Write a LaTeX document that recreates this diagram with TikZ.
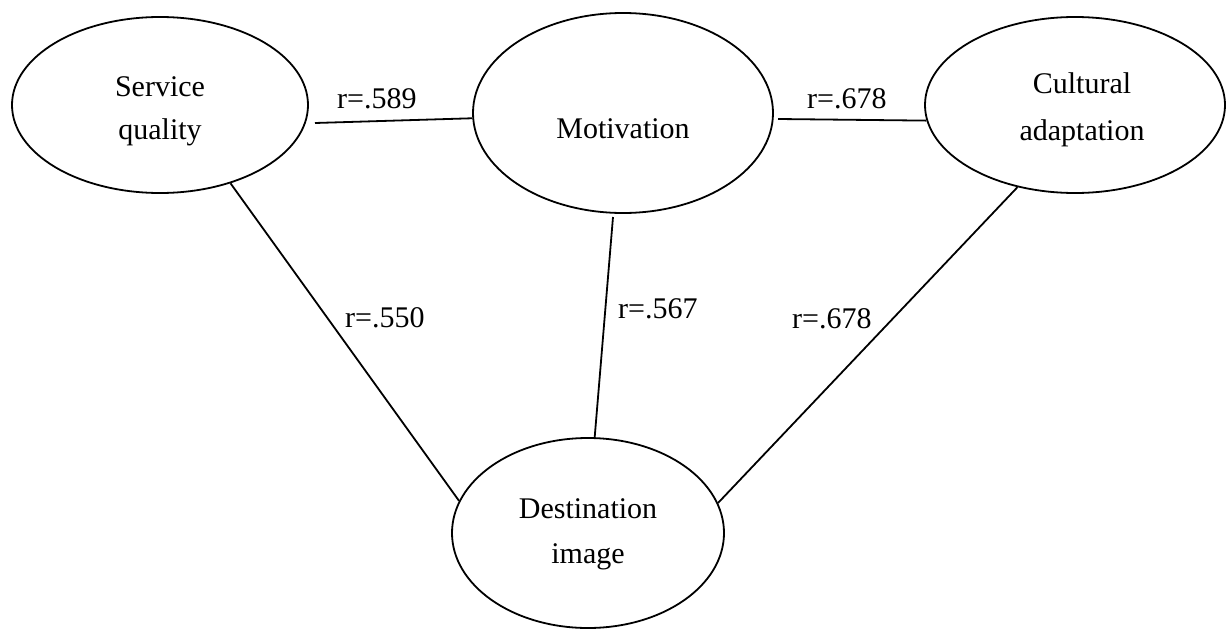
\documentclass[tikz,border=0pt]{standalone}
\usepackage{fontspec}
\setmainfont{Liberation Serif}
\usetikzlibrary{shapes.geometric}
\begin{document}
\begin{tikzpicture}[x=1pt,y=-1pt,
  latent/.style={draw, ellipse, line width=1.8pt, inner sep=0pt},
  lbl/.style={font=\fontsize{30}{43}\selectfont, inner sep=0pt, align=center},
  rlab/.style={font=\fontsize{30}{36}\selectfont, inner sep=0pt, anchor=base west},
  link/.style={line width=1.8pt}]
\useasboundingbox[fill=white] (0,0) rectangle (1229,629);
% ellipses
\node[latent, minimum width=296pt, minimum height=176pt] (sq) at (160,105) {};
\node[latent, minimum width=300pt, minimum height=200pt] (mo) at (623,113) {};
\node[latent, minimum width=300pt, minimum height=176pt] (ca) at (1075,105) {};
\node[latent, minimum width=272pt, minimum height=190pt] (di) at (588,533) {};
% texts
\node[lbl] (sqt) at (160,111) {Service\\quality};
\node[lbl, anchor=base] (mot) at (623,138) {Motivation};
\node[lbl, font=\fontsize{30}{47}\selectfont] (cat) at (1082,110) {Cultural\\adaptation};
\node[lbl, font=\fontsize{30}{45}\selectfont] (dit) at (588,534) {Destination\\image};
% free ends
\coordinate (sqm) at (315,123);
\coordinate (moc) at (778,119);
\coordinate (mod) at (613,217);
% connectors
\draw[link] (sqm) -- (mo.182);
\draw[link] (moc) -- (ca.186);
\draw[link] (sq.-48) -- (di.166.5);
\draw[link] (mod) -- (di.86);
\draw[link] (ca.-125.5) -- (di.13.5);
% labels
\node[rlab] (l1) at (337,108) {r=.589};
\node[rlab] (l2) at (807,108) {r=.678};
\node[rlab] (l3) at (345,327) {r=.550};
\node[rlab] (l4) at (618,318) {r=.567};
\node[rlab] (l5) at (792,328) {r=.678};
\end{tikzpicture}
\end{document}
